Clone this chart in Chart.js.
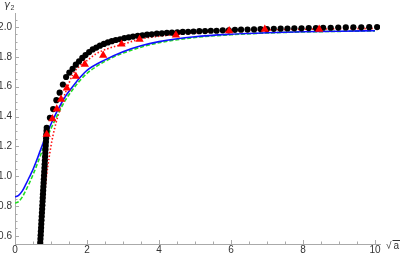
<!DOCTYPE html>
<html>
<head>
<meta charset="utf-8">
<style>
  html, body { margin: 0; padding: 0; background: #fff; }
  #chart { display: block; }
</style>
<script src="https://cdn.jsdelivr.net/npm/chart.js"></script>
</head>
<body>
<canvas id="chart" width="403" height="254"></canvas>
<script>
// tick labels
var xTickLabels = [0, 2, 4, 6, 8, 10];
var yTickLabels = [0.6, 0.8, 1.0, 1.2, 1.4, 1.6, 1.8, 2.0];

// blue solid curve
var blueX = [0, 0.1, 0.2, 0.3, 0.4, 0.5, 0.6, 0.7, 0.8, 0.9, 1.0, 1.2, 1.4, 1.6, 1.8, 2.0, 2.5, 3.0, 3.5, 4, 5, 6, 7, 8, 9, 10];
var blueY = [0.862, 0.872, 0.9, 0.945, 0.995, 1.045, 1.105, 1.17, 1.235, 1.295, 1.35, 1.45, 1.535, 1.6, 1.66, 1.71, 1.78, 1.835, 1.875, 1.902, 1.935, 1.952, 1.962, 1.968, 1.972, 1.975];

// green dashed curve
var greenX = [0, 0.1, 0.2, 0.3, 0.4, 0.5, 0.6, 0.7, 0.8, 0.9, 1.0, 1.2, 1.4, 1.6, 1.8, 2.0, 2.5, 3.0, 3.5, 4, 5, 6, 7, 8, 9, 10];
var greenY = [0.82, 0.83, 0.86, 0.905, 0.955, 1.01, 1.07, 1.135, 1.2, 1.265, 1.32, 1.42, 1.51, 1.58, 1.64, 1.69, 1.77, 1.825, 1.865, 1.895, 1.93, 1.948, 1.96, 1.967, 1.971, 1.974];

// red dotted curve
var redX = [0.70, 0.72, 0.76, 0.8, 0.84, 0.88, 0.95, 1.02, 1.1, 1.2, 1.3, 1.44, 1.6, 1.8, 2.0, 2.25, 2.6, 3.0, 3.5, 4, 5, 6, 7, 8, 9, 10];
var redY = [0.50, 0.55, 0.69, 0.81, 0.92, 1.01, 1.13, 1.23, 1.32, 1.41, 1.49, 1.585, 1.68, 1.74, 1.775, 1.82, 1.857, 1.885, 1.92, 1.938, 1.96, 1.972, 1.98, 1.985, 1.988, 1.99];

// red triangles
var triX = [0.88, 1.04, 1.16, 1.28, 1.44, 1.69, 1.94, 2.45, 2.96, 3.46, 4.47, 5.95, 6.94, 8.45];
var triY = [1.28, 1.385, 1.45, 1.515, 1.59, 1.67, 1.75, 1.81, 1.885, 1.917, 1.946, 1.975, 1.984, 1.984];

// black dots
var dotX = [0.695, 0.701, 0.707, 0.713, 0.719, 0.725, 0.730, 0.736, 0.742, 0.748, 0.754, 0.760, 0.766, 0.771, 0.777, 0.783, 0.789,
  0.795, 0.801, 0.806, 0.812, 0.818, 0.824, 0.830, 0.836, 0.842, 0.847, 0.853, 0.859, 0.865, 0.871, 0.877, 0.881,
  0.97, 1.06, 1.15, 1.24, 1.33, 1.42, 1.51, 1.60, 1.69, 1.78, 1.87, 1.96, 2.06, 2.16, 2.26, 2.36, 2.47, 2.58, 2.69, 2.80,
  2.92, 3.04, 3.16, 3.28, 3.41, 3.54, 3.67, 3.80, 3.94, 4.08, 4.22, 4.36, 4.51, 4.66, 4.81, 4.96, 5.12, 5.28, 5.44, 5.60,
  5.77, 5.94, 6.11, 6.28, 6.46, 6.64, 6.82, 7.00, 7.19, 7.38, 7.57, 7.76, 7.96, 8.16, 8.36, 8.56, 8.77, 8.98, 9.19, 9.40,
  9.62, 9.84, 10.06];
var dotY = [0.53, 0.555, 0.58, 0.605, 0.63, 0.655, 0.68, 0.705, 0.73, 0.755, 0.78, 0.805, 0.83, 0.855, 0.88, 0.905, 0.93,
  0.955, 0.98, 1.005, 1.03, 1.055, 1.08, 1.105, 1.13, 1.155, 1.18, 1.205, 1.23, 1.255, 1.28, 1.305, 1.325,
  1.392, 1.45, 1.51, 1.56, 1.615, 1.665, 1.695, 1.72, 1.748, 1.77, 1.793, 1.812, 1.832, 1.85, 1.862, 1.875, 1.887, 1.897, 1.905, 1.913,
  1.918, 1.926, 1.931, 1.936, 1.941, 1.944, 1.949, 1.951, 1.956, 1.957, 1.961, 1.962, 1.965, 1.967, 1.968, 1.97, 1.972, 1.973, 1.975, 1.975,
  1.978, 1.978, 1.981, 1.982, 1.983, 1.984, 1.986, 1.986, 1.988, 1.989, 1.99, 1.991, 1.991, 1.993, 1.993, 1.995, 1.995, 1.996, 1.997, 1.998,
  1.998, 1.999, 2.0];

function pts(xs, ys) {
    return xs.map(function(x, i) { return { x: x, y: ys[i] }; });
}

var axisGray = '#aaaaaa';
var labelColor = '#333333';
var labelFont = { family: '"Liberation Sans", Arial, sans-serif', size: 10 };

// inward tick marks and axis labels, Mathematica style
var axisDecor = {
    id: 'axisDecor',
    afterDraw: function(chart) {
        var ctx = chart.ctx;
        var xs = chart.scales.x, ys = chart.scales.y;
        var area = chart.chartArea;
        ctx.save();
        ctx.strokeStyle = axisGray;
        ctx.lineWidth = 1;
        ctx.beginPath();
        for (var i = 1; i <= 20; i++) {
            var v = i * 0.5;
            var px = Math.round(xs.getPixelForValue(v)) + 0.5;
            var len = (i % 4 === 0) ? 4 : 2.5;
            ctx.moveTo(px, area.bottom);
            ctx.lineTo(px, area.bottom - len);
        }
        for (var j = 12; j <= 41; j++) {
            var yv = j * 0.05;
            var py = Math.round(ys.getPixelForValue(yv)) + 0.5;
            var ylen = (j % 4 === 0) ? 4 : 2.5;
            ctx.moveTo(area.left, py);
            ctx.lineTo(area.left + ylen, py);
        }
        ctx.stroke();

        ctx.fillStyle = labelColor;
        ctx.font = 'italic 10px "DejaVu Sans", sans-serif';
        ctx.textBaseline = 'alphabetic';
        ctx.fillText('\u03b3', 4, 8);
        ctx.font = '7px "Liberation Sans", Arial, sans-serif';
        ctx.fillText('2', 10.5, 10);

        ctx.font = '10px "Liberation Sans", Arial, sans-serif';
        ctx.fillText('\u221a', 386, 249);
        ctx.fillText('a', 393.5, 249);
        ctx.strokeStyle = labelColor;
        ctx.beginPath();
        ctx.moveTo(392.5, 240.5);
        ctx.lineTo(400, 240.5);
        ctx.stroke();
        ctx.restore();
    }
};

var ctx = document.getElementById('chart').getContext('2d');
var chart = new Chart(ctx, {
    type: 'scatter',
    data: {
        datasets: [
            {
                label: 'triangles',
                data: pts(triX, triY),
                pointStyle: 'triangle',
                pointRadius: 4.8,
                backgroundColor: '#ff0000',
                borderColor: '#ff0000',
                borderWidth: 0,
                showLine: false,
                order: 0
            },
            {
                label: 'dots',
                data: pts(dotX, dotY),
                pointRadius: 3.1,
                backgroundColor: '#000000',
                borderWidth: 0,
                showLine: false,
                clip: 0,
                order: 1
            },
            {
                label: 'blue',
                data: pts(blueX, blueY),
                showLine: true,
                borderColor: '#1010ff',
                borderWidth: 1.6,
                pointRadius: 0,
                cubicInterpolationMode: 'monotone',
                clip: 0,
                order: 2
            },
            {
                label: 'green',
                data: pts(greenX, greenY),
                showLine: true,
                borderColor: '#22dd22',
                borderWidth: 1.6,
                borderDash: [4, 2],
                pointRadius: 0,
                cubicInterpolationMode: 'monotone',
                clip: 0,
                order: 3
            },
            {
                label: 'red',
                data: pts(redX, redY),
                showLine: true,
                borderColor: '#ff1010',
                borderWidth: 1.6,
                borderDash: [1.5, 2],
                pointRadius: 0,
                cubicInterpolationMode: 'monotone',
                clip: 0,
                order: 4
            }
        ]
    },
    options: {
        responsive: false,
        animation: false,
        devicePixelRatio: 1,
        layout: { padding: { left: 0, right: 23, top: 13, bottom: 0 } },
        plugins: { legend: { display: false }, tooltip: { enabled: false } },
        scales: {
            x: {
                type: 'linear',
                min: 0,
                max: 10.14,
                afterBuildTicks: function(scale) {
                    scale.ticks = xTickLabels.map(function(v) { return { value: v }; });
                },
                afterFit: function(scale) { scale.height = 10; },
                grid: { display: true, drawOnChartArea: false, drawTicks: false },
                border: { display: true, color: axisGray, width: 1 },
                ticks: {
                    autoSkip: false,
                    maxRotation: 0,
                    padding: 0,
                    color: labelColor,
                    font: labelFont,
                    callback: function(v) { return String(v); }
                }
            },
            y: {
                type: 'linear',
                min: 0.546,
                max: 2.094,
                afterBuildTicks: function(scale) {
                    scale.ticks = yTickLabels.map(function(v) { return { value: v }; });
                },
                afterFit: function(scale) { scale.width = 15; },
                grid: { display: true, drawOnChartArea: false, drawTicks: false },
                border: { display: true, color: axisGray, width: 1 },
                ticks: {
                    autoSkip: false,
                    padding: 3,
                    color: labelColor,
                    font: labelFont,
                    callback: function(v) { return Number(v).toFixed(1); }
                }
            }
        }
    },
    plugins: [axisDecor]
});
</script>
</body>
</html>
